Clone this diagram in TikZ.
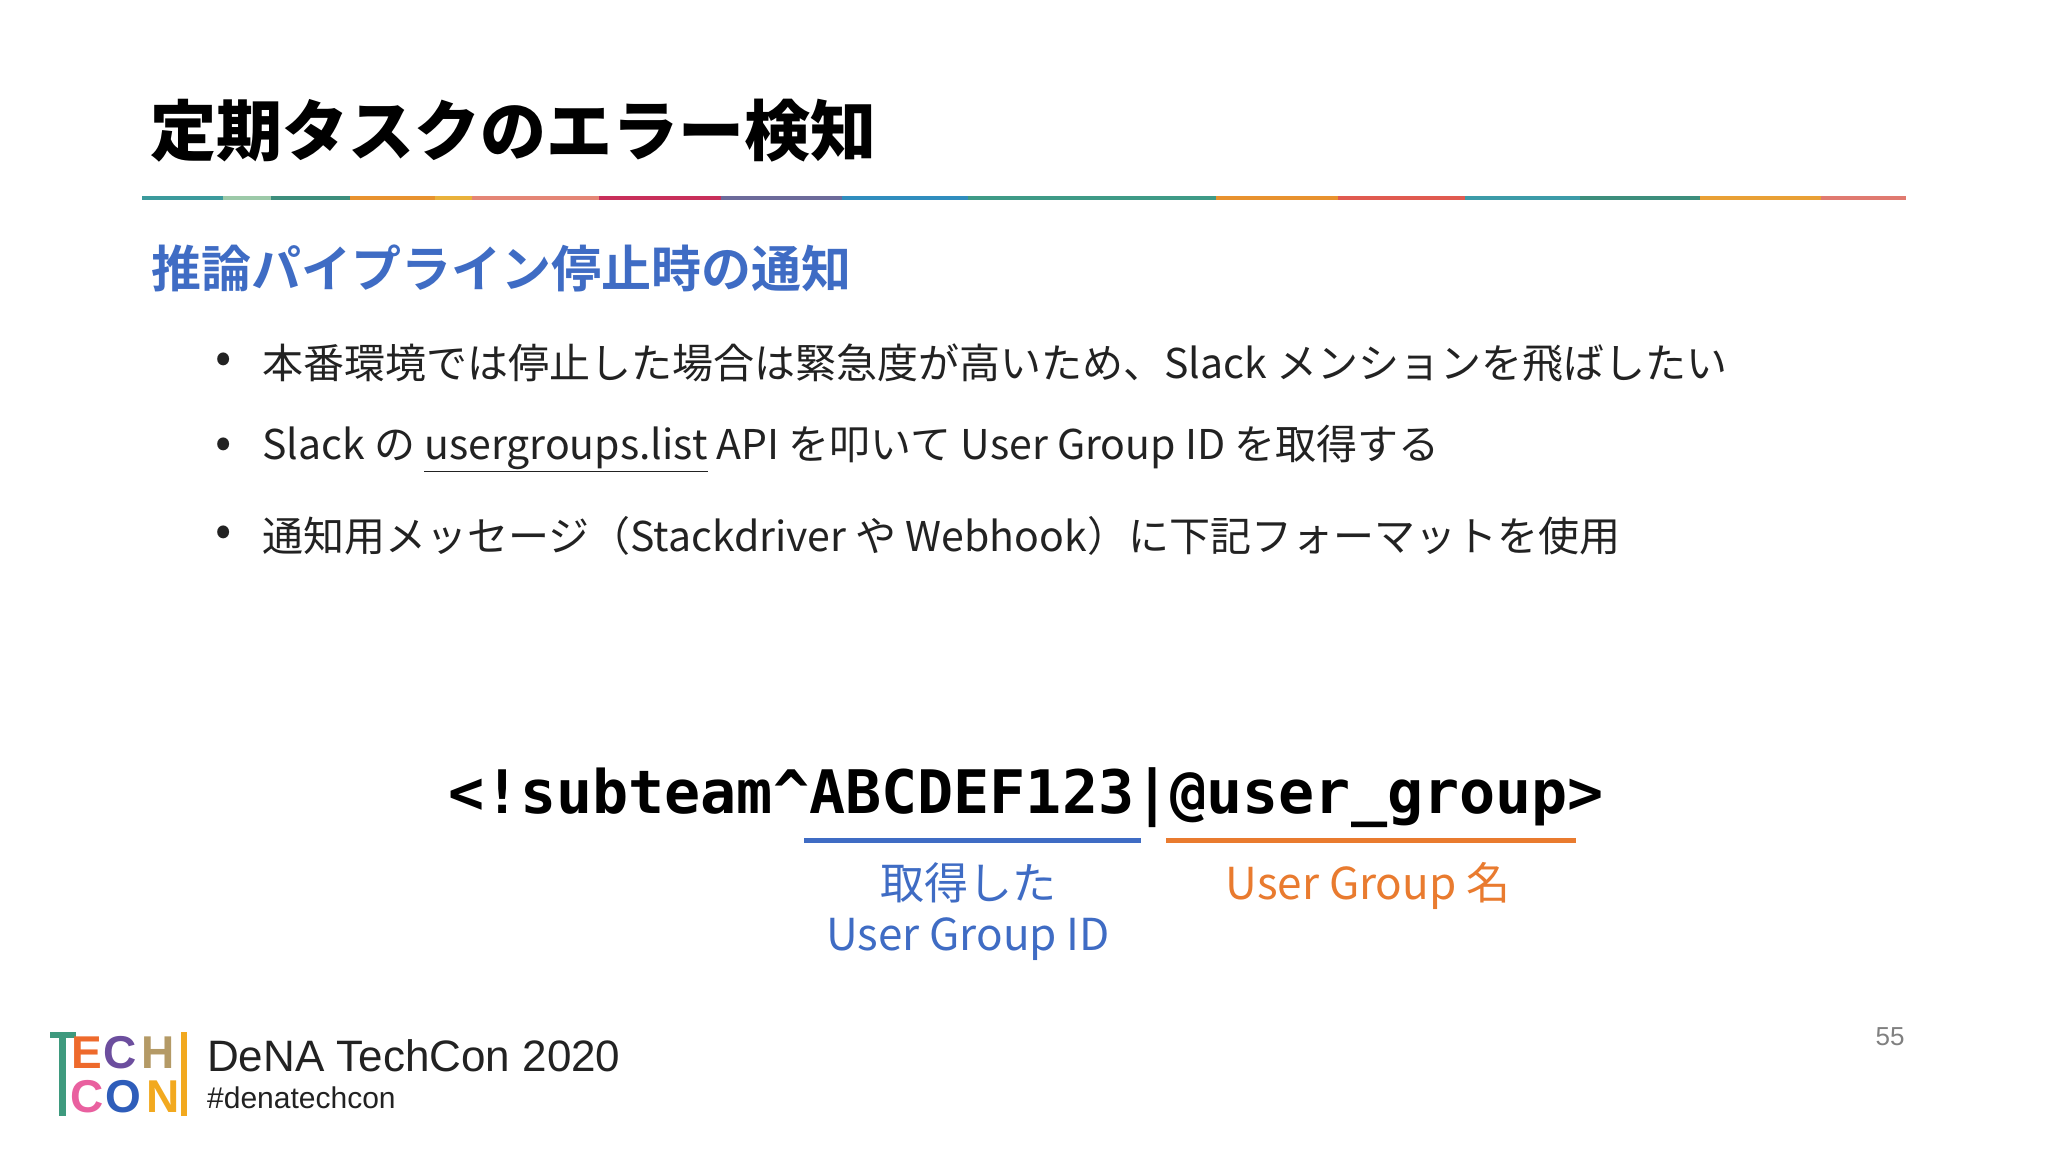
\documentclass[tikz,border=0pt]{standalone}
\usepackage{fontspec}
\setmainfont{Noto Sans CJK JP}
\newfontfamily\jpb{Noto Sans CJK JP Black}
\newfontfamily\jpsb{Noto Sans CJK JP Bold}
\newfontfamily\codefont{DejaVu Sans Mono Bold}
\newfontfamily\logofont{Liberation Sans}
\newfontfamily\logob{Liberation Sans Bold}
\definecolor{subblue}{HTML}{3F6CC4}
\definecolor{lblorange}{HTML}{E97B2F}
\definecolor{ink}{HTML}{222222}
\tikzset{
  bullet/.style={anchor=west, font=\fontsize{41}{41}\selectfont, text=ink, inner sep=0},
  bdot/.style={font=\fontsize{48}{48}\selectfont, text=ink, inner sep=0},
  lbl/.style={align=center, font=\fontsize{44}{51}\selectfont, inner sep=0},
}
\begin{document}
\begin{tikzpicture}[x=1pt,y=-1pt]
\useasboundingbox (0,0) rectangle (2048,1152);
\fill[white] (0,0) rectangle (2048,1152);
\node[anchor=west, inner sep=0, font=\jpb\fontsize{66}{66}\selectfont] (title) at (150,131) {定期タスクのエラー検知};
% colour rule
\foreach \a/\b/\c in {0/0.046/3B9A9C,0.046/0.073/9CC9A8,0.073/0.118/3D8E7C,0.118/0.166/E8922E,0.166/0.187/E9B13A,0.187/0.259/E48575,0.259/0.328/C82E5A,0.328/0.397/6C6A9A,0.397/0.468/2F8DBE,0.468/0.609/3E9A86,0.609/0.678/E8922E,0.678/0.750/E05A50,0.750/0.815/3C9BA8,0.815/0.883/3D8E7C,0.883/0.952/E9A035,0.952/1/E07A70}{
  \definecolor{segc}{HTML}{\c}
  \fill[segc] ({142+1764*\a},196) rectangle ({142+1764*\b},200);
}
\node[anchor=west, inner sep=0, text=subblue, font=\jpsb\fontsize{50}{50}\selectfont] (sub) at (151,268) {推論パイプライン停止時の通知};
\node[bdot] (d1) at (224,363) {•};
\node[bdot] (d2) at (224,448) {•};
\node[bdot] (d3) at (224,536) {•};
\node[bullet] (b1) at (262,363) {本番環境では停止した場合は緊急度が高いため、Slack メンションを飛ばしたい};
\node[bullet] (b2) at (262,448) {Slack の \underline{usergroups.list} API を叩いて User Group ID を取得する};
\node[bullet] (b3) at (262,536) {通知用メッセージ（Stackdriver や Webhook）に下記フォーマットを使用};
\node[inner sep=0, font=\codefont\fontsize{60}{60}\selectfont] (code) at (1026,798) {<!subteam\^{}ABCDEF123|@user\_group>};
\draw[subblue, line width=5pt] (804,840) -- (1141,840);
\draw[lblorange, line width=5pt] (1166,840) -- (1576,840);
\node[lbl, text=subblue] (l1) at (968,912) {取得した\\User Group ID};
\node[lbl, text=lblorange] (l2) at (1368,886) {User Group 名};
\node[text=gray, font=\logofont\fontsize{26}{26}\selectfont] (pg) at (1890,1037) {55};
% logo
\definecolor{lg}{HTML}{3E9A7E}\definecolor{lo}{HTML}{EE6A2C}\definecolor{lp}{HTML}{6C4E9E}\definecolor{lt}{HTML}{B49A66}
\definecolor{lk}{HTML}{E9609F}\definecolor{lb}{HTML}{2E5DBA}\definecolor{ly}{HTML}{F2A91F}
\begin{scope}[font=\logob\fontsize{46}{46}\selectfont, inner sep=0]
\fill[lg] (50,1032) rectangle (76,1038);
\fill[lg] (59,1032) rectangle (66,1116);
\fill[ly] (181,1032) rectangle (187,1116);
\node[text=lo, anchor=west] (lE) at (71,1053) {E};
\node[text=lp, anchor=west] (lC) at (103,1053) {C};
\node[text=lt, anchor=west] (lH) at (141,1053) {H};
\node[text=lk, anchor=west] (lC2) at (70,1097) {C};
\node[text=lb, anchor=west] (lO) at (105,1097) {O};
\node[text=ly, anchor=west] (lN) at (146,1097) {N};
\end{scope}
\node[anchor=west, inner sep=0, text=ink, font=\logofont\fontsize{44}{44}\selectfont] (dena) at (207,1056) {DeNA TechCon 2020};
\node[anchor=west, inner sep=0, text=ink, font=\logofont\fontsize{30}{30}\selectfont] (tag) at (207,1098) {\#denatechcon};
\end{tikzpicture}
\end{document}
